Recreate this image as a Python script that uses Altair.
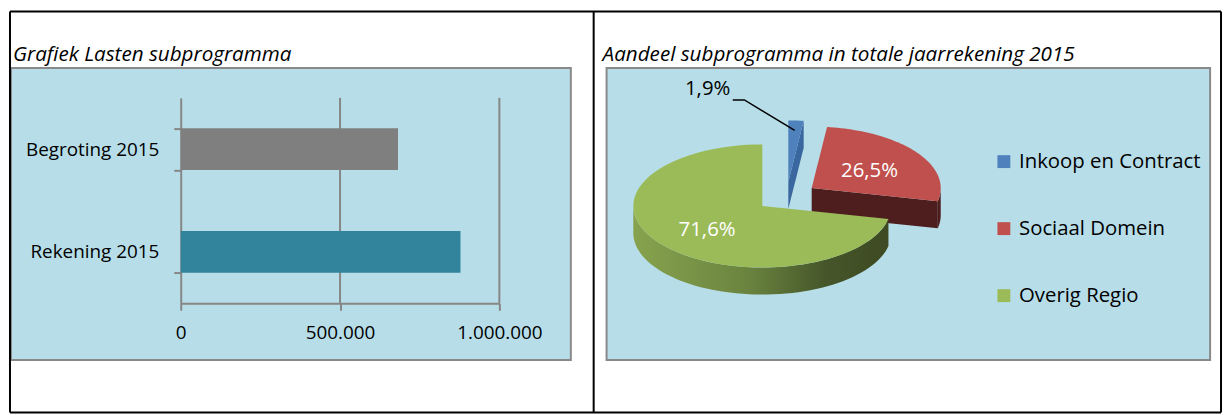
import altair as alt
import pandas as pd

# ---------------- data ----------------
bar_cats = ["Begroting 2015", "Rekening 2015"]
bar_vals = [682000, 878000]
x_ticks = [0, 500000, 1000000]

pie_cats = ["Inkoop en Contract", "Sociaal Domein", "Overig Regio"]
pie_shares = [1.9, 26.5, 71.6]

title_left = "Grafiek Lasten subprogramma"
title_right = "Aandeel subprogramma in totale jaarrekening 2015"

# ---------------- style ----------------
bar_colors = ["#7f7f7f", "#31849b"]
pie_colors = ["#4f81bd", "#c0504d", "#9bbb59"]
FONT = "Open Sans"
AX = "#868686"
TFS = 20.8   # title font size
LFS = 20.5   # legend / pie label font size
AFS = 19     # axis label font size

bars_df = pd.DataFrame({"label": bar_cats, "val": bar_vals})
ticks_df = pd.DataFrame({"val": x_ticks})
pie_df = pd.DataFrame({"slice": pie_cats, "share": pie_shares, "idx": list(range(len(pie_cats)))})
one = pd.DataFrame({"z": [0]})

W1, W2, H = 564, 608, 294

# ---------------- left panel: bar chart ----------------
x_enc = alt.X("val:Q", scale=alt.Scale(domain=[0, 1000000], range=[171, 492], nice=False),
              axis=alt.Axis(values=x_ticks, offset=-57, title=None, grid=False,
                            domainColor=AX, domainWidth=2, tickColor=AX, tickWidth=2, tickSize=7,
                            labelPadding=13, labelFontSize=AFS, labelFont=FONT, labelColor="black",
                            labelFlush=False, labelOverlap=False,
                            labelExpr="replace(format(datum.value, ','), regexp(',', 'g'), '.')"))

grid = alt.Chart(ticks_df).transform_filter("datum.val > 0").mark_rule(color=AX, strokeWidth=2).encode(
    x=x_enc, y=alt.value(30), y2=alt.value(237))

bars = alt.Chart(bars_df).mark_bar().encode(
    x=x_enc,
    y=alt.Y("label:N", sort=bar_cats,
            scale=alt.Scale(range=[30, 237], paddingInner=0.594, paddingOuter=0.297),
            axis=alt.Axis(offset=-171, title=None, tickBand="extent", domainColor=AX, domainWidth=2,
                          tickColor=AX, tickWidth=2, tickSize=7, labelPadding=15, labelFontSize=AFS,
                          labelFont=FONT, labelColor="black")),
    color=alt.Color("label:N", scale=alt.Scale(domain=bar_cats, range=bar_colors), legend=None),
)


def hline(y):
    return alt.Chart(one).mark_rule(color="black", strokeWidth=2).encode(
        x=alt.value(-1), x2=alt.value(1219), y=alt.value(y))


def vline(x):
    return alt.Chart(one).mark_rule(color="black", strokeWidth=2).encode(
        x=alt.value(x), y=alt.value(-57), y2=alt.value(347))


left = alt.layer(grid, bars, hline(-57), hline(347), vline(-1), vline(587), vline(1219)).properties(
    width=W1, height=H,
    title=alt.TitleParams(title_left, anchor="start", frame="group", fontSize=TFS, fontStyle="italic",
                          fontWeight="normal", font=FONT, color="black", offset=-56, dx=2),
)

# ---------------- right panel: exploded 3D pie ----------------
E, D, N, F = 0.24, 0.44, 60, 0.55
pie_x = alt.X("px:Q", scale=alt.Scale(domain=[-1.394, 3.283], nice=False, zero=False), axis=None)
pie_y = alt.Y("py:Q", scale=alt.Scale(domain=[-2.652, 2.090], nice=False, zero=False), axis=None)

base = alt.Chart(pie_df).transform_joinaggregate(
    total="sum(share)"
).transform_window(
    cum="sum(share)", sort=[alt.SortField("idx")], frame=[None, 0]
).transform_calculate(
    a0="(datum.cum - datum.share) / datum.total * 2 * PI",
    a1="datum.cum / datum.total * 2 * PI",
    mid="(datum.cum - datum.share / 2) / datum.total * 2 * PI",
    ex=f"{E} * sin((datum.cum - datum.share / 2) / datum.total * 2 * PI)",
    ey=f"{E} * cos((datum.cum - datum.share / 2) / datum.total * 2 * PI)",
    lbl="replace(format(datum.share, '.1f'), '.', ',') + '%'",
)


def poly_enc(ch):
    return ch.encode(x=pie_x, y=pie_y, order=alt.Order("k:Q"), detail="slice:N")


def rim(flt, color):
    ch = base.transform_filter(flt).transform_calculate(
        b0="max(datum.a0, PI / 2)", b1="min(datum.a1, 3 * PI / 2)"
    ).transform_filter("datum.b1 > datum.b0").transform_calculate(
        k=f"sequence(0, {2 * N + 2})"
    ).transform_flatten(["k"]).transform_calculate(
        t=f"datum.k <= {N} ? datum.k / {N} : ({2 * N + 1} - datum.k) / {N}",
        dz=f"datum.k <= {N} ? 0 : {-D}",
    ).transform_calculate(
        a="datum.b0 + (datum.b1 - datum.b0) * datum.t"
    ).transform_calculate(
        px="datum.ex + sin(datum.a)", py="datum.ey + cos(datum.a) + datum.dz"
    ).mark_line(filled=True, color=color)
    return poly_enc(ch)


def end_face(flt, color):
    ch = base.transform_filter(flt).transform_filter("sin(datum.a1) > 0.001").transform_calculate(
        k="sequence(0, 4)"
    ).transform_flatten(["k"]).transform_calculate(
        r="(datum.k == 1 || datum.k == 2) ? 1 : 0",
        dz=f"datum.k >= 2 ? {-D} : 0",
    ).transform_calculate(
        px="datum.ex + datum.r * sin(datum.a1)", py="datum.ey + datum.r * cos(datum.a1) + datum.dz"
    ).mark_line(filled=True, color=color)
    return poly_enc(ch)


green_grad = alt.Gradient(
    gradient="linear", x1=0, x2=1, y1=0, y2=0,
    stops=[alt.GradientStop(offset=0, color="#87a34e"), alt.GradientStop(offset=0.45, color="#6a843f"),
           alt.GradientStop(offset=0.75, color="#46562a"), alt.GradientStop(offset=1, color="#3d4a22")],
)

tops = poly_enc(base.transform_calculate(
    k=f"sequence(0, {N + 2})"
).transform_flatten(["k"]).transform_calculate(
    a=f"datum.a0 + (datum.a1 - datum.a0) * max(datum.k - 1, 0) / {N}",
    r="datum.k == 0 ? 0 : 1",
).transform_calculate(
    px="datum.ex + datum.r * sin(datum.a)", py="datum.ey + datum.r * cos(datum.a)"
).mark_line(filled=True)).encode(
    color=alt.Color("slice:N", scale=alt.Scale(domain=pie_cats, range=pie_colors),
                    legend=alt.Legend(orient="none", legendX=390, legendY=84, title=None,
                                      symbolType="square", symbolSize=169, symbolStrokeWidth=0,
                                      labelFontSize=LFS, labelFont=FONT, labelColor="black",
                                      labelOffset=5, rowPadding=46.5, padding=0, labelLimit=400,
                                      direction="vertical")),
)

inner_lbl = base.transform_filter("datum.share >= 5").transform_calculate(
    px=f"datum.ex + {F} * sin(datum.mid)", py=f"datum.ey + {F} * cos(datum.mid)"
).mark_text(color="white", fontSize=LFS, font=FONT, dy=3).encode(x=pie_x, y=pie_y, text="lbl:N")

outer_lbl = base.transform_filter("datum.share < 5").transform_calculate(
    px="datum.ex + sin(datum.mid)", py="datum.ey + cos(datum.mid)"
).mark_text(color="black", fontSize=LFS, font=FONT, dx=-89, dy=-32).encode(x=pie_x, y=pie_y, text="lbl:N")

leader = base.transform_filter("datum.share < 5").transform_calculate(
    k="sequence(0, 3)"
).transform_flatten(["k"]).transform_calculate(
    ox="datum.k == 0 ? -0.49 : (datum.k == 1 ? -0.40 : -0.01)",
    oy="datum.k == 2 ? -0.16 : 0.335",
).transform_calculate(
    px="datum.ex + sin(datum.mid) + datum.ox", py="datum.ey + cos(datum.mid) + datum.oy"
).mark_line(color="black", strokeWidth=1.5).encode(x=pie_x, y=pie_y, order=alt.Order("k:Q"), detail="slice:N")

right = alt.layer(
    end_face("datum.idx == 0", "#3b67a0"),
    rim("datum.idx == 1", "#4e1e1f"),
    end_face("datum.idx == 1", "#4e1e1f"),
    rim("datum.idx == 2", green_grad),
    tops, inner_lbl, leader, outer_lbl,
).properties(
    width=W2, height=H,
    title=alt.TitleParams(title_right, anchor="start", frame="group", fontSize=TFS, fontStyle="italic",
                          fontWeight="normal", font=FONT, color="black", offset=2, dx=-4),
)

chart = alt.hconcat(left, right, spacing=36, bounds="flush").resolve_scale(
    x="independent", y="independent", color="independent"
).properties(padding=0).configure(font=FONT).configure_view(
    fill="#b7dee8", stroke="#898989", strokeWidth=2
)

chart.save("out.html", embed_options={"renderer": "svg", "actions": False})
